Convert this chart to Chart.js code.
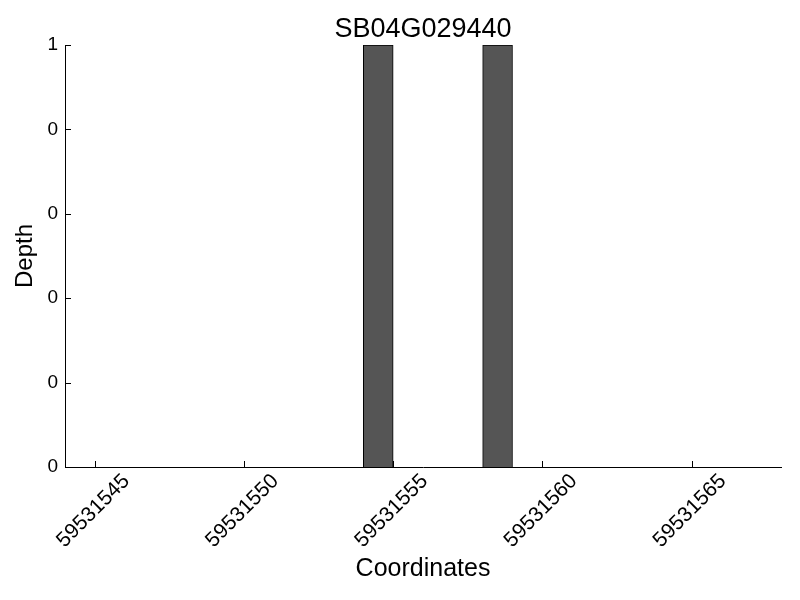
<!DOCTYPE html>
<html>
<head>
<meta charset="utf-8">
<script src="https://cdn.jsdelivr.net/npm/chart.js@4.4.0/dist/chart.umd.min.js"></script>
<style>
  html, body { margin: 0; padding: 0; background: #fff; }
  #chart { display: block; }
</style>
</head>
<body>
<canvas id="chart" width="800" height="600"></canvas>
<script>
// --- data ---
const coordinates = [59531554, 59531558];
const depth = [1, 1];
const xTickValues = [59531545, 59531550, 59531555, 59531560, 59531565];
const yTickValues = [0, 0.2, 0.4, 0.6, 0.8, 1];
const xRange = [59531544, 59531568];
const yRange = [0, 1];

const FONT = "'Liberation Sans', Arial, Helvetica, sans-serif";

// each bar covers [coord, coord + 1]
const barData = coordinates.map((c, i) => ({ x: c + 0.5, y: depth[i] }));

// inward tick marks + rotated x labels centred on their ticks
const axisDecor = {
    id: 'axisDecor',
    afterDraw(chart) {
        const ctx = chart.ctx;
        const xs = chart.scales.x;
        const ys = chart.scales.y;
        const area = chart.chartArea;
        ctx.save();
        ctx.strokeStyle = '#000';
        ctx.lineWidth = 1;
        ctx.beginPath();
        yTickValues.forEach(v => {
            const y = Math.round(ys.getPixelForValue(v)) + 0.5;
            ctx.moveTo(area.left, y);
            ctx.lineTo(area.left + 6, y);
        });
        xTickValues.forEach(v => {
            const x = Math.round(xs.getPixelForValue(v)) + 0.5;
            ctx.moveTo(x, area.bottom);
            ctx.lineTo(x, area.bottom - 6);
        });
        ctx.stroke();

        ctx.fillStyle = '#000';
        ctx.font = '21px ' + FONT;
        ctx.textAlign = 'center';
        ctx.textBaseline = 'middle';
        xTickValues.forEach(v => {
            const x = xs.getPixelForValue(v);
            ctx.save();
            ctx.translate(x - 1.5, area.bottom + 44);
            ctx.rotate(-Math.PI / 4);
            ctx.fillText(String(v), 0, 0);
            ctx.restore();
        });
        ctx.restore();
    }
};

new Chart(document.getElementById('chart'), {
    type: 'bar',
    data: {
        datasets: [{
            label: 'Depth',
            data: barData,
            backgroundColor: '#555555',
            borderColor: '#000000',
            borderWidth: 1,
            barPercentage: 1,
            categoryPercentage: 1
        }]
    },
    options: {
        responsive: false,
        animation: false,
        layout: { padding: { left: 0, right: 19, top: 0, bottom: 0 } },
        plugins: {
            legend: { display: false },
            tooltip: { enabled: false },
            title: {
                display: true,
                text: 'SB04G029440',
                fullSize: false,
                color: '#000',
                font: { family: FONT, size: 27, weight: 'normal', lineHeight: 1 },
                padding: { top: 16.5, bottom: 1.5 }
            }
        },
        scales: {
            x: {
                type: 'linear',
                offset: false,
                min: xRange[0],
                max: xRange[1],
                ticks: { display: false, stepSize: 1 },
                grid: { display: false, offset: false },
                border: { display: true, color: '#000', width: 1 },
                title: {
                    display: true,
                    text: 'Coordinates',
                    color: '#000',
                    font: { family: FONT, size: 25 },
                    padding: { top: 0, bottom: 16 }
                },
                afterFit(scale) { scale.height = 133; }
            },
            y: {
                min: yRange[0],
                max: yRange[1],
                ticks: {
                    stepSize: 0.2,
                    color: '#000',
                    padding: 7,
                    font: { family: FONT, size: 19 },
                    callback: v => String(Math.floor(v + 1e-9))
                },
                grid: { display: false, drawTicks: false },
                border: { display: true, color: '#000', width: 1 },
                title: {
                    display: true,
                    text: 'Depth',
                    color: '#000',
                    font: { family: FONT, size: 24 },
                    padding: { top: 11, bottom: 0 }
                },
                afterFit(scale) { scale.width = 65; }
            }
        }
    },
    plugins: [axisDecor]
});
</script>
</body>
</html>
